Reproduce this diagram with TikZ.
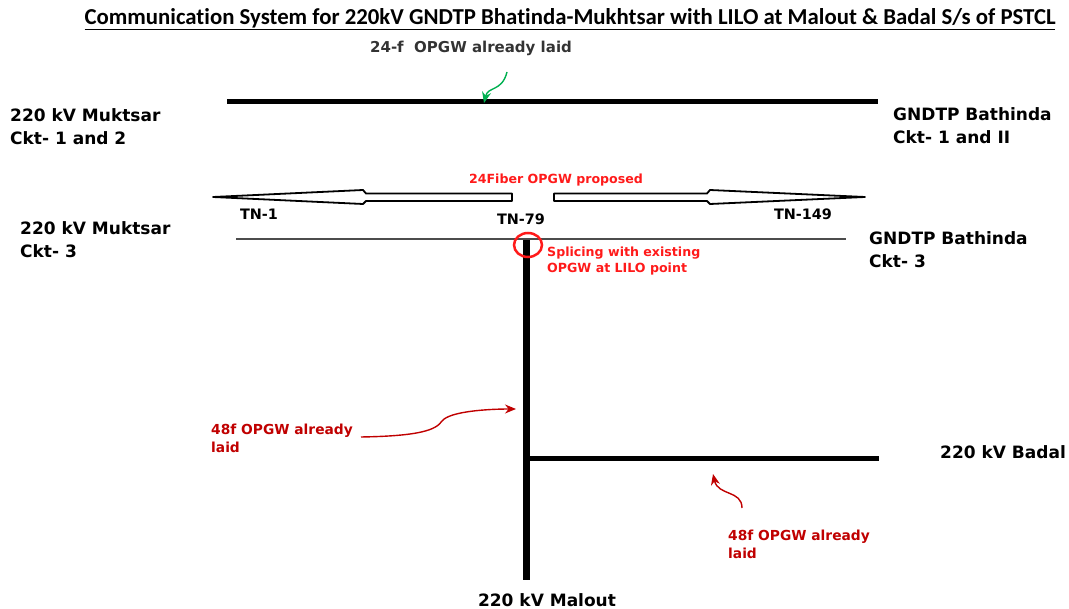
\documentclass[tikz,border=0pt]{standalone}
\usepackage{fontspec}
\setmainfont{DejaVu Sans}
\newfontfamily\titlefont[Ligatures=NoCommon]{Carlito}
\usetikzlibrary{arrows.meta}
\definecolor{brightred}{HTML}{FF1A1A}
\definecolor{darkred}{HTML}{C00000}
\definecolor{optgreen}{HTML}{00B050}
\definecolor{inkgray}{HTML}{333333}

\begin{document}
\begin{tikzpicture}[x=1pt,y=-1pt,
  station/.style={font=\bfseries\fontsize{17}{23}\selectfont, align=left, anchor=west, inner sep=0pt},
  tower/.style={font=\bfseries\fontsize{14.4}{17}\selectfont, inner sep=0pt},
  redtext/.style={font=\bfseries\fontsize{12.6}{16}\selectfont, text=brightred, align=left, inner sep=0pt},
  note/.style={font=\bfseries\fontsize{13.8}{18}\selectfont, text=darkred, align=left, anchor=west, inner sep=0pt},
  feeder/.style={line width=5pt},
  hollow/.style={line width=1.8pt, fill=white, line join=round},
  pointer/.style={line width=1.4pt, -{Stealth[length=11pt,width=9pt]}}]
  \useasboundingbox (0,0) rectangle (1069,609);

  % title and top note
  \node[font=\titlefont\bfseries\fontsize{22.8}{26}\selectfont, inner sep=0pt] (title) at (570,19)
    {\underline{Communication System for 220kV GNDTP Bhatinda-Mukhtsar with LILO at Malout \& Badal S/s of PSTCL}};
  \node[font=\bfseries\fontsize{15}{18}\selectfont, text=inkgray, inner sep=0pt] (laid24) at (471,48) {24-f\ \ OPGW already laid};

  % existing double circuit
  \coordinate (dcA) at (227,102);
  \coordinate (dcB) at (878,102);
  \draw[feeder] (dcA) -- (dcB);
  \node[station] (muk12) at (10,127) {220 kV Muktsar\\Ckt- 1 and 2};
  \node[station] (bat12) at (893,126) {GNDTP Bathinda\\Ckt- 1 and II};
  \coordinate (g1) at (507,72);
  \coordinate (g2) at (484,103);
  \draw[pointer, optgreen] (g1) .. controls (502,92) and (488,86) .. (g2);

  % proposed 24 fibre OPGW
  \node[redtext] (prop) at (556,180) {24Fiber OPGW proposed};
  \draw[hollow] (213,197) -- (363,190) -- (366,193.5) -- (512,193.5)
    -- (512,201) -- (366,201) -- (363,204) -- cycle;
  \draw[hollow] (865,197) -- (710,190) -- (707,193.5) -- (554,193.5)
    -- (554,201) -- (707,201) -- (710,204) -- cycle;
  \node[tower] (tn1) at (259,214) {TN-1};
  \node[tower] (tn79) at (521,219) {TN-79};
  \node[tower] (tn149) at (803,214) {TN-149};

  % circuit 3
  \coordinate (c3A) at (236,239);
  \coordinate (c3B) at (846,239);
  \draw[line width=1.5pt, black!70] (c3A) -- (c3B);
  \node[station] (muk3) at (20,240) {220 kV Muktsar\\Ckt- 3};
  \node[station] (bat3) at (869,250) {GNDTP Bathinda\\Ckt- 3};

  % LILO to Malout and Badal
  \coordinate (lilo) at (526,240);
  \coordinate (mal) at (526,580);
  \coordinate (tee) at (526,459);
  \coordinate (bad) at (879,459);
  \draw[line width=7pt] (lilo) -- (mal);
  \draw[feeder] (tee) -- (bad);
  \draw[brightred, line width=2.5pt] (528,245) ellipse [x radius=14, y radius=12];
  \node[redtext, anchor=west] (splice) at (547,261) {Splicing with existing\\OPGW at LILO point};
  \node[station] (badal) at (940,452) {220 kV Badal};
  \node[station, anchor=center] (malout) at (547,600) {220 kV Malout};

  % 48f notes
  \node[note] (n48a) at (211,438) {48f OPGW already\\laid};
  \coordinate (r1) at (361,437);
  \coordinate (r2) at (516,409);
  \draw[pointer, darkred] (r1) .. controls (420,436) and (436,430) .. (442,421)
    .. controls (450,411) and (490,409) .. (r2);
  \node[note] (n48b) at (728,544) {48f OPGW already\\laid};
  \coordinate (r3) at (742,508);
  \coordinate (r4) at (713,474);
  \draw[pointer, darkred] (r3) .. controls (742,490) and (718,496) .. (r4);
\end{tikzpicture}
\end{document}
